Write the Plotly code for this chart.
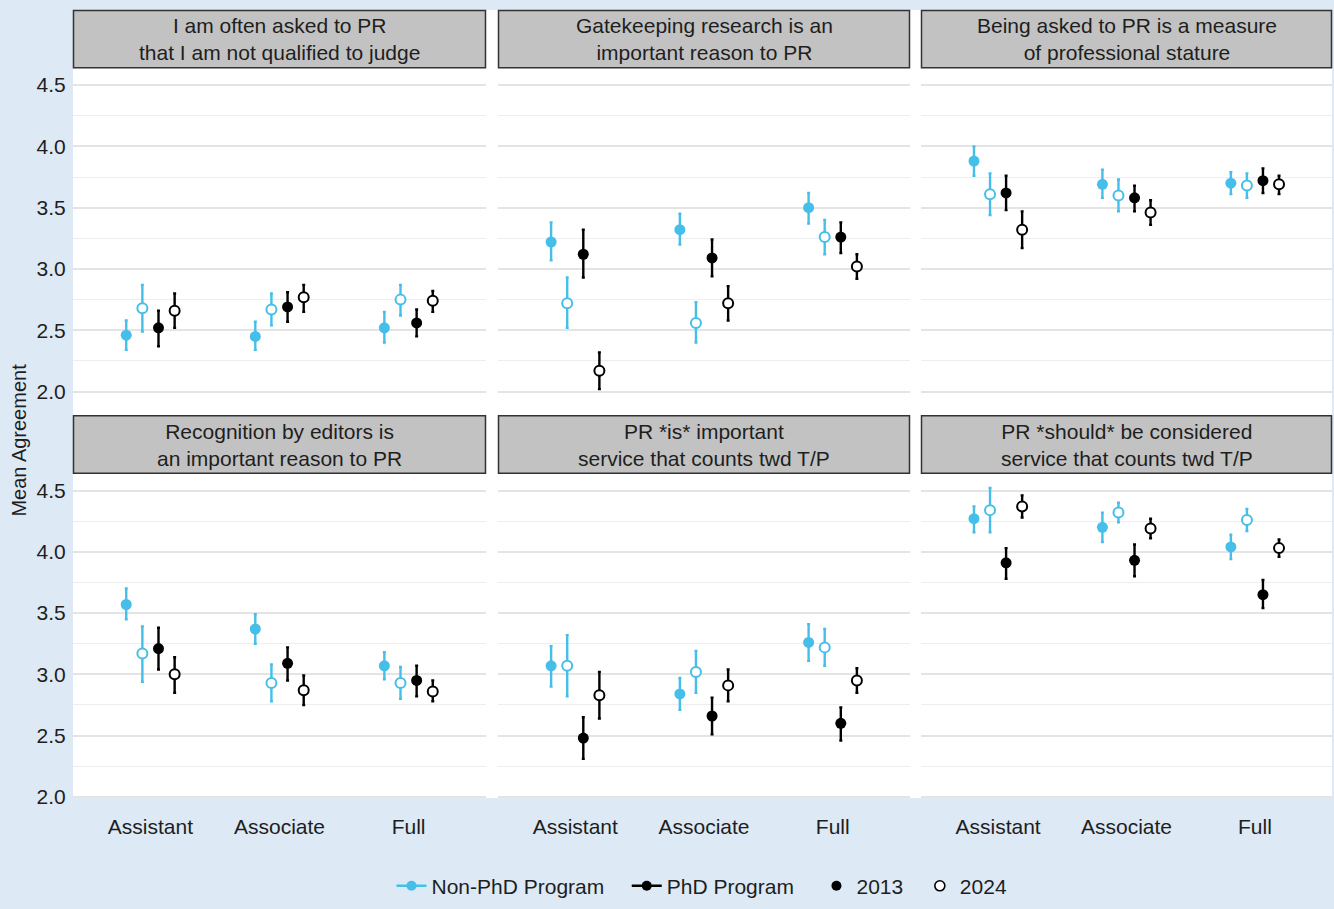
import numpy as np
import plotly.graph_objects as go

# ---- data -------------------------------------------------------------
ranks = ["Assistant", "Associate", "Full"]

panel_titles = [
    "I am often asked to PR<br>that I am not qualified to judge",
    "Gatekeeping research is an<br>important reason to PR",
    "Being asked to PR is a measure<br>of professional stature",
    "Recognition by editors is<br>an important reason to PR",
    "PR *is* important<br>service that counts twd T/P",
    "PR *should* be considered<br>service that counts twd T/P",
]

# mean agreement per panel (rows) and rank (columns)
nonphd_2013 = [[2.46, 2.45, 2.52], [3.22, 3.32, 3.50], [3.88, 3.69, 3.70],
               [3.57, 3.37, 3.07], [3.07, 2.84, 3.26], [4.27, 4.20, 4.04]]
nonphd_2013_lo = [[2.34, 2.34, 2.40], [3.07, 3.20, 3.37], [3.76, 3.58, 3.61],
                  [3.45, 3.25, 2.96], [2.90, 2.71, 3.11], [4.16, 4.08, 3.94]]
nonphd_2013_hi = [[2.58, 2.57, 2.65], [3.38, 3.45, 3.62], [4.00, 3.81, 3.79],
                  [3.70, 3.49, 3.18], [3.23, 2.97, 3.41], [4.37, 4.32, 4.14]]

nonphd_2024 = [[2.68, 2.67, 2.75], [2.72, 2.56, 3.26], [3.61, 3.60, 3.68],
               [3.17, 2.93, 2.93], [3.07, 3.02, 3.22], [4.34, 4.32, 4.26]]
nonphd_2024_lo = [[2.49, 2.54, 2.62], [2.52, 2.40, 3.12], [3.44, 3.47, 3.58],
                  [2.94, 2.78, 2.80], [2.82, 2.85, 3.07], [4.16, 4.24, 4.17]]
nonphd_2024_hi = [[2.87, 2.80, 2.87], [2.93, 2.73, 3.40], [3.78, 3.73, 3.78],
                  [3.39, 3.08, 3.06], [3.32, 3.19, 3.37], [4.52, 4.40, 4.35]]

phd_2013 = [[2.52, 2.69, 2.56], [3.12, 3.09, 3.26], [3.62, 3.58, 3.72],
            [3.21, 3.09, 2.95], [2.48, 2.66, 2.60], [3.91, 3.93, 3.65]]
phd_2013_lo = [[2.37, 2.57, 2.45], [2.93, 2.94, 3.13], [3.48, 3.47, 3.62],
               [3.04, 2.95, 2.82], [2.31, 2.51, 2.46], [3.78, 3.80, 3.54]]
phd_2013_hi = [[2.66, 2.81, 2.67], [3.32, 3.24, 3.38], [3.76, 3.68, 3.82],
               [3.38, 3.22, 3.07], [2.65, 2.81, 2.73], [4.03, 4.06, 3.77]]

phd_2024 = [[2.66, 2.77, 2.74], [2.17, 2.72, 3.02], [3.32, 3.46, 3.69],
            [3.00, 2.87, 2.86], [2.83, 2.91, 2.95], [4.37, 4.19, 4.03]]
phd_2024_lo = [[2.52, 2.65, 2.65], [2.02, 2.58, 2.92], [3.17, 3.36, 3.61],
               [2.85, 2.75, 2.78], [2.64, 2.78, 2.85], [4.28, 4.11, 3.96]]
phd_2024_hi = [[2.80, 2.87, 2.82], [2.32, 2.86, 3.12], [3.47, 3.56, 3.76],
               [3.14, 2.99, 2.95], [3.02, 3.04, 3.05], [4.46, 4.27, 4.10]]

y_ticks = [2.0, 2.5, 3.0, 3.5, 4.0, 4.5]

# ---- styling ----------------------------------------------------------
W, H = 1334, 909
BLUE = "#45bfe9"
BLACK = "#000000"
PAGE_BG = "#dde9f5"
FONT = "Liberation Sans, Arial, Helvetica, sans-serif"
TEXT = "#1e1e1e"
NBSP = "\u00a0"

# panel geometry in pixels
col_px = [(73, 486), (498, 910), (921, 1332)]
row_px = [(69, 420), (479, 807)]          # plot area (top, bottom)
strip_px = [(10, 69), (420, 479)]         # facet strips (top, bottom)
row_yrange = [[1.806, 4.637], [1.99, 4.637]]


def px_x(x):
    return x / W


def px_y(y):
    return 1 - y / H


series = [
    # name, means, lo, hi, colour, filled
    ("Non-PhD 2013", nonphd_2013, nonphd_2013_lo, nonphd_2013_hi, BLUE, True),
    ("Non-PhD 2024", nonphd_2024, nonphd_2024_lo, nonphd_2024_hi, BLUE, False),
    ("PhD 2013", phd_2013, phd_2013_lo, phd_2013_hi, BLACK, True),
    ("PhD 2024", phd_2024, phd_2024_lo, phd_2024_hi, BLACK, False),
]

# dodge four series within each rank category (total dodge width 0.5)
dodge_width = 0.5
n_series = len(series)
offsets = (np.arange(n_series) - (n_series - 1) / 2) * dodge_width / n_series
base_x = np.arange(1, len(ranks) + 1)

fig = go.Figure()
layout_axes = {}
shapes = []
annotations = []

# white backdrop behind the whole facet grid
shapes.append(dict(type="rect", xref="paper", yref="paper",
                   x0=px_x(73), x1=px_x(1332), y0=px_y(807), y1=px_y(10),
                   fillcolor="white", line=dict(width=0), layer="below"))

for p in range(6):
    r, c = divmod(p, 3)
    ax = "" if p == 0 else str(p + 1)
    xa, ya = "x" + ax, "y" + ax

    for k, (name, means, lo, hi, colour, filled) in enumerate(series):
        m = np.array(means[p])
        up = np.array(hi[p]) - m
        dn = m - np.array(lo[p])
        fig.add_trace(go.Scatter(
            x=base_x + offsets[k], y=m, mode="markers",
            xaxis=xa, yaxis=ya, showlegend=False, name=name,
            marker=dict(symbol="circle", size=11 if filled else 10,
                        color=colour if filled else "white",
                        line=dict(color=colour, width=0 if filled else 2)),
            error_y=dict(type="data", symmetric=False, array=up, arrayminus=dn,
                         color=colour, thickness=2.4, width=1.5),
            cliponaxis=False,
        ))

    x0, x1 = col_px[c]
    top, bot = row_px[r]
    layout_axes["xaxis" + ax] = dict(
        domain=[px_x(x0), px_x(x1)], anchor=ya, range=[0.4, 3.6],
        tickmode="array", tickvals=list(base_x), ticktext=ranks,
        showticklabels=(r == 1), ticks="outside", ticklen=10,
        tickcolor="rgba(0,0,0,0)", showgrid=False, zeroline=False,
        showline=False, tickfont=dict(family=FONT, size=21, color=TEXT),
        fixedrange=True,
    )
    layout_axes["yaxis" + ax] = dict(
        domain=[px_y(bot), px_y(top)], anchor=xa, range=row_yrange[r],
        tickmode="array", tickvals=y_ticks,
        ticktext=[f"{v:.1f}" for v in y_ticks],
        showticklabels=(c == 0), ticks="outside", ticklen=2,
        tickcolor="rgba(0,0,0,0)",
        showgrid=True, gridcolor="#e4e4e4", gridwidth=1.8,
        minor=dict(dtick=0.25, tick0=0, showgrid=True,
                   gridcolor="#eeeeee", gridwidth=1),
        zeroline=False, showline=False,
        tickfont=dict(family=FONT, size=21, color=TEXT),
        fixedrange=True,
    )

    # facet strip
    s_top, s_bot = strip_px[r]
    shapes.append(dict(type="rect", xref="paper", yref="paper",
                       x0=px_x(x0 + 0.5), x1=px_x(x1 - 0.5),
                       y0=px_y(s_bot - 0.5), y1=px_y(s_top + 0.5),
                       fillcolor="#c2c2c2",
                       line=dict(color="#333333", width=1.5), layer="above"))
    annotations.append(dict(
        text=panel_titles[p], xref="paper", yref="paper",
        x=px_x((x0 + x1) / 2), y=px_y((s_top + s_bot) / 2),
        xanchor="center", yanchor="middle", showarrow=False, align="center",
        font=dict(family=FONT, size=21, color=TEXT),
    ))

# y axis title shared by both rows
annotations.append(dict(
    text="Mean Agreement", xref="paper", yref="paper",
    x=px_x(19.5), y=px_y(445), xanchor="center", yanchor="middle",
    textangle=-90, showarrow=False,
    font=dict(family=FONT, size=20, color=TEXT),
))

# legend entries (non-breaking spaces widen the gaps between entries)
legend_items = [
    ("Non-PhD Program" + NBSP * 3, "lines+markers", BLUE, BLUE, BLUE),
    ("PhD Program" + NBSP * 3, "lines+markers", BLACK, BLACK, BLACK),
    ("2013" + NBSP * 2, "markers", BLACK, BLACK, BLACK),
    ("2024", "markers", BLACK, "white", BLACK),
]
for name, mode, lc, fc, mc in legend_items:
    fig.add_trace(go.Scatter(
        x=[None], y=[None], mode=mode, name=name, xaxis="x", yaxis="y",
        line=dict(color=lc, width=2.5),
        marker=dict(symbol="circle", size=10, color=fc,
                    line=dict(color=mc, width=1.6 if fc == "white" else 0)),
        showlegend=True,
    ))

fig.update_layout(
    width=W, height=H,
    margin=dict(l=0, r=0, t=0, b=0),
    paper_bgcolor=PAGE_BG, plot_bgcolor="white",
    font=dict(family=FONT, color=TEXT),
    shapes=shapes, annotations=annotations,
    showlegend=True,
    legend=dict(orientation="h", x=px_x(702), xanchor="center",
                y=px_y(896), yanchor="middle", bgcolor="rgba(0,0,0,0)",
                font=dict(family=FONT, size=21, color=TEXT),
                itemclick=False, itemdoubleclick=False),
    **layout_axes,
)

fig.write_html("out.html")
